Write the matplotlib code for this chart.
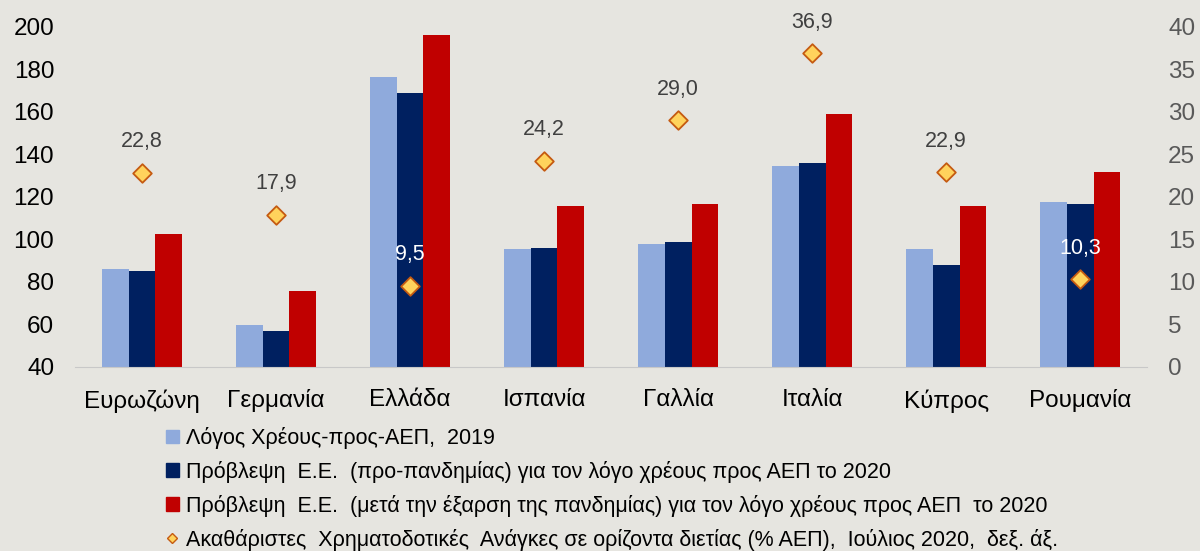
import matplotlib.pyplot as plt
from matplotlib.lines import Line2D
from matplotlib.patches import Patch
import numpy as np

countries = ["Ευρωζώνη", "Γερμανία", "Ελλάδα", "Ισπανία", "Γαλλία", "Ιταλία", "Κύπρος", "Ρουμανία"]
debt_2019 = [85.9, 59.6, 176.6, 95.5, 98.1, 134.8, 95.5, 117.7]
forecast_pre = [85.1, 56.8, 169.1, 96.0, 98.9, 136.2, 87.8, 116.5]
forecast_post = [102.7, 75.6, 196.4, 115.6, 116.5, 158.9, 115.7, 131.6]
gross_needs = [22.8, 17.9, 9.5, 24.2, 29.0, 36.9, 22.9, 10.3]
needs_labels = ["22,8", "17,9", "9,5", "24,2", "29,0", "36,9", "22,9", "10,3"]

legend_labels = [
    "Λόγος Χρέους-προς-ΑΕΠ,  2019",
    "Πρόβλεψη  Ε.Ε.  (προ-πανδημίας) για τον λόγο χρέους προς ΑΕΠ το 2020",
    "Πρόβλεψη  Ε.Ε.  (μετά την έξαρση της πανδημίας) για τον λόγο χρέους προς ΑΕΠ  το 2020",
    "Ακαθάριστες  Χρηματοδοτικές  Ανάγκες σε ορίζοντα διετίας (% ΑΕΠ),  Ιούλιος 2020,  δεξ. άξ.",
]

bg = "#E6E5E0"
c_light = "#8FAADC"
c_dark = "#002060"
c_red = "#C00000"

plt.rcParams['font.family'] = ['Liberation Sans', 'DejaVu Sans']

fig = plt.figure(figsize=(12, 5.51), dpi=100, facecolor=bg)
ax = fig.add_axes([0.0625, 0.334, 0.8935, 0.617])
ax.set_facecolor(bg)

x = np.arange(len(countries))
w = 0.2
ax.bar(x - w, debt_2019, w, color=c_light)
ax.bar(x, forecast_pre, w, color=c_dark)
ax.bar(x + w, forecast_post, w, color=c_red)
ax.set_ylim(40, 200)
ax.set_xlim(-0.5, len(countries) - 0.5)
ax.set_yticks(range(40, 201, 20))
ax.set_xticks(x)
ax.set_xticklabels(countries)
ax.tick_params(axis='both', length=0, labelsize=17.5, colors='black')
ax.tick_params(axis='x', pad=16)
ax.tick_params(axis='y', pad=15)
for s in ['top', 'right', 'left']:
    ax.spines[s].set_visible(False)
ax.spines['bottom'].set_color('#C8C8C8')

ax2 = ax.twinx()
ax2.set_ylim(0, 40)
ax2.set_yticks(range(0, 41, 5))
ax2.tick_params(axis='y', length=0, labelsize=17.5, labelcolor='#595959', pad=15)
for s in ax2.spines.values():
    s.set_visible(False)
ax2.scatter(x, gross_needs, marker='D', s=90, color='#FFD35C', edgecolor='#C55A11', linewidth=1.3, zorder=5)
for xi, v, lab in zip(x, gross_needs, needs_labels):
    col = 'white' if v < 12 else '#404040'
    ax2.annotate(lab, (xi, v), xytext=(0, 15), textcoords='offset points',
                 ha='center', va='bottom', fontsize=15.5, color=col)

handles = [
    Patch(color=c_light),
    Patch(color=c_dark),
    Patch(color=c_red),
    Line2D([], [], marker='D', linestyle='none', markersize=5,
           markerfacecolor='#FFD35C', markeredgecolor='#C55A11'),
]
leg = fig.legend(handles, legend_labels, loc='upper left', bbox_to_anchor=(0.138, 1 - 427 / 551),
                 frameon=False, fontsize=15.5, handlelength=0.6, handleheight=0.6,
                 handletextpad=0.35, labelspacing=0.55, borderaxespad=0, borderpad=0)

fig.savefig("out.png", dpi=100, facecolor=bg)
